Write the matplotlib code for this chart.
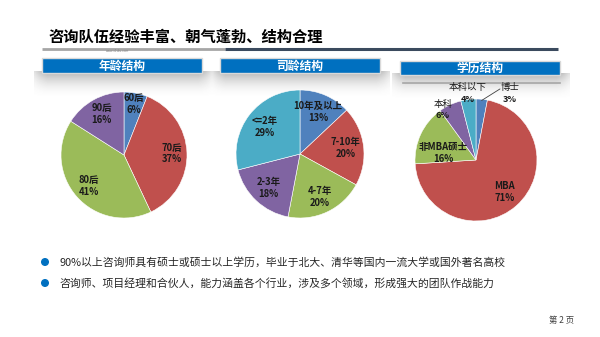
import matplotlib.pyplot as plt
import matplotlib.patches as mpatches
import numpy as np

plt.rcParams['font.family'] = ['Noto Sans CJK SC', 'DejaVu Sans']

# Datos
titulo = "咨询队伍经验丰富、朝气蓬勃、结构合理"

age_labels = ["60后", "70后", "80后", "90后"]
age_values = [6, 37, 41, 16]

tenure_labels = ["10年及以上", "7-10年", "4-7年", "2-3年", "<=2年"]
tenure_values = [13, 20, 20, 18, 29]

edu_labels = ["博士", "MBA", "非MBA硕士", "本科", "本科以下"]
edu_values = [3, 71, 16, 6, 4]

headers = ["年龄结构", "司龄结构", "学历结构"]

bullets = [
    "90%以上咨询师具有硕士或硕士以上学历，毕业于北大、清华等国内一流大学或国外著名高校",
    "咨询师、项目经理和合伙人，能力涵盖各个行业，涉及多个领域，形成强大的团队作战能力",
]

colors = ["#4F81BD", "#C0504D", "#9BBB59", "#8064A2", "#4BACC6"]

W, H = 600, 337
fig = plt.figure(figsize=(6, 3.37), dpi=100)
bg = fig.add_axes([0, 0, 1, 1])
bg.set_xlim(0, W)
bg.set_ylim(H, 0)
bg.axis('off')

# Titulo y linea
bg.text(48, 37, titulo, fontsize=11, fontweight='bold', va='center', ha='left', color='black')
bg.plot([42, 225], [48.5, 48.5], color='#A6A6A6', lw=2, solid_capstyle='butt')
bg.plot([225, 558], [48.5, 48.5], color='#3B4A5E', lw=2.2, solid_capstyle='butt')
bg.text(118, 50.5, "www.x1sku.com", fontsize=2.2, color='#808080', ha='center', va='center')

# Cabeceras con sombra
boxes = [(42, 58, 160, 15), (220, 58, 160, 15), (400, 61, 160, 14)]
for (x0, y0, w, h), txt in zip(boxes, headers):
    grad = np.zeros((40, 100, 4))
    yy = np.linspace(0, 1, 40)[:, None]
    xx = np.linspace(-1, 1, 100)[None, :]
    grad[..., :3] = 0.45
    grad[..., 3] = 0.55 * (1 - yy) ** 2 * np.clip(1.4 - np.abs(xx) ** 6, 0, 1)
    bg.imshow(grad, extent=[x0 - 8, x0 + w + 10, y0 + h + 26, y0 + h - 2],
              aspect='auto', zorder=1, interpolation='bilinear')
    bg.add_patch(mpatches.Rectangle((x0, y0), w, h, facecolor='#0070C0',
                                    edgecolor='#D9D9D9', lw=1, zorder=2))
    bg.text(x0 + w / 2, y0 + h / 2 + 0.5, txt, color='white', fontsize=8.5,
            fontweight='bold', ha='center', va='center', zorder=3)
bg.plot([403, 560], [83, 83], color='#A6A6A6', lw=1.2, zorder=3)
bg.set_xlim(0, W)
bg.set_ylim(H, 0)

# Viñetas
for i, t in enumerate(bullets):
    y = 262 + i * 21
    bg.add_patch(mpatches.Circle((45, y), 3.3, color='#0070C0'))
    bg.text(59, y, t, fontsize=7.8, color='#262626', va='center', ha='left')

bg.text(562, 320, "第 2 页", fontsize=6, color='#404040', ha='center', va='center')


def pastel(cx, cy, r, valores, etiquetas, dist):
    ax = fig.add_axes([(cx - r) / W, 1 - (cy + r) / H, 2 * r / W, 2 * r / H])
    wedges, _ = ax.pie(valores, colors=colors[:len(valores)], startangle=90,
                       counterclock=False, radius=1,
                       wedgeprops=dict(linewidth=0.4, edgecolor='white'))
    ax.set_xlim(-1, 1)
    ax.set_ylim(-1, 1)
    for w, lab, v, d in zip(wedges, etiquetas, valores, dist):
        ang = np.deg2rad((w.theta1 + w.theta2) / 2)
        x, y = d * np.cos(ang), d * np.sin(ang)
        ax.text(x, y, f"{lab}\n{v}%", ha='center', va='center', fontsize=6.8,
                fontweight='bold', color='#1A1A1A', linespacing=1.25)
    return ax, wedges


pastel(124, 155, 63, age_values, age_labels, [0.82, 0.76, 0.74, 0.74])
pastel(300, 154, 64, tenure_values, tenure_labels, [0.72, 0.72, 0.74, 0.72, 0.70])

# Tercer pastel, con etiquetas exteriores
ax3 = fig.add_axes([(476 - 61) / W, 1 - (160 + 61) / H, 122 / W, 122 / H])
wedges, _ = ax3.pie(edu_values, colors=colors, startangle=90, counterclock=False,
                    wedgeprops=dict(linewidth=0.4, edgecolor='white'))
ax3.set_xlim(-1, 1)
ax3.set_ylim(-1, 1)
dist3 = [1.1, 0.7, 0.56, 1.0, 1.1]
shift3 = [(0.45, 0), (0, 0), (-0.03, -0.12), (-0.12, -0.08), (0.0, 0.0)]
for k, (w, lab, v, d, s) in enumerate(zip(wedges, edu_labels, edu_values, dist3, shift3)):
    ang = np.deg2rad((w.theta1 + w.theta2) / 2)
    x, y = np.cos(ang), np.sin(ang)
    pos = (x * d + s[0], y * d + s[1])
    if k in (1, 2):
        ax3.text(*pos, f"{lab}\n{v}%", ha='center', va='center', fontsize=6.8,
                 fontweight='bold', color='#1A1A1A', linespacing=1.25)
    else:
        ax3.text(pos[0], pos[1] + 0.09, lab, ha='center', va='center', fontsize=6.8,
                 color='#1A1A1A')
        ax3.text(pos[0], pos[1] - 0.1, f"{v}%", ha='center', va='center', fontsize=6.5,
                 fontweight='bold', color='#1A1A1A')
        if k == 0:
            ax3.annotate("", xy=(x * 0.98, y * 0.98), xytext=(pos[0] - 0.16, pos[1] + 0.07),
                         arrowprops=dict(arrowstyle='-', color='#404040', lw=0.6,
                                         shrinkA=0, shrinkB=0))

fig.savefig("out.png", dpi=100)
